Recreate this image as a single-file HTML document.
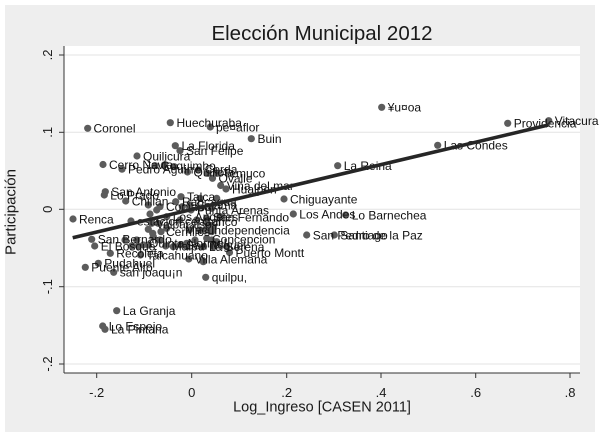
<!DOCTYPE html>
<html><head><meta charset="utf-8"><style>
html,body{margin:0;padding:0;background:#fff;}
svg{display:block;}
text{font-family:"Liberation Sans",Arial,sans-serif;fill:#1a1a1a;}
.l{font-size:12px;fill:#111;}
</style></head><body>
<svg width="600" height="437" viewBox="0 0 600 437" xmlns="http://www.w3.org/2000/svg">
<rect x="0" y="0" width="600" height="437" fill="#fff"/>
<rect x="5" y="5" width="590" height="427" fill="#eeeeee"/>
<rect x="64" y="46" width="516" height="327" fill="#fff"/>
<!-- gridlines -->
<g stroke="#e3e3e3" stroke-width="1">
<line x1="64" y1="55" x2="580" y2="55"/>
<line x1="64" y1="132.3" x2="580" y2="132.3"/>
<line x1="64" y1="209.3" x2="580" y2="209.3"/>
<line x1="64" y1="286.7" x2="580" y2="286.7"/>
<line x1="64" y1="364" x2="580" y2="364"/>
</g>
<!-- axes -->
<g stroke="#333" stroke-width="1">
<line x1="64" y1="46" x2="64" y2="373"/>
<line x1="64" y1="373" x2="580" y2="373"/>
<line x1="59" y1="55" x2="64" y2="55"/>
<line x1="59" y1="132.3" x2="64" y2="132.3"/>
<line x1="59" y1="209.3" x2="64" y2="209.3"/>
<line x1="59" y1="286.7" x2="64" y2="286.7"/>
<line x1="59" y1="364" x2="64" y2="364"/>
<line x1="96.7" y1="373" x2="96.7" y2="378"/>
<line x1="191.7" y1="373" x2="191.7" y2="378"/>
<line x1="286.7" y1="373" x2="286.7" y2="378"/>
<line x1="381" y1="373" x2="381" y2="378"/>
<line x1="475.7" y1="373" x2="475.7" y2="378"/>
<line x1="570" y1="373" x2="570" y2="378"/>
</g>
<!-- y tick labels -->
<g font-size="13" text-anchor="middle">
<text transform="translate(52,55) rotate(-90)">.2</text>
<text transform="translate(52,132.3) rotate(-90)">.1</text>
<text transform="translate(52,209.3) rotate(-90)">0</text>
<text transform="translate(52,286.7) rotate(-90)">-.1</text>
<text transform="translate(52,364) rotate(-90)">-.2</text>
</g>
<!-- x tick labels -->
<g font-size="13" text-anchor="middle">
<text x="96.7" y="397">-.2</text>
<text x="191.7" y="397">0</text>
<text x="286.7" y="397">.2</text>
<text x="381" y="397">.4</text>
<text x="475.7" y="397">.6</text>
<text x="570" y="397">.8</text>
</g>
<text x="322" y="411.5" font-size="14.5" text-anchor="middle">Log_Ingreso [CASEN 2011]</text>
<text transform="translate(15.5,212) rotate(-90)" font-size="15" text-anchor="middle">Participación</text>
<text x="322" y="40" font-size="20.5" text-anchor="middle">Elección Municipal 2012</text>

<!-- dots -->
<g fill="#5c5c5c">
<circle cx="87.7" cy="128.3" r="3.6"/>
<circle cx="170.3" cy="122.7" r="3.6"/>
<circle cx="210.3" cy="127" r="3.6"/>
<circle cx="251.3" cy="138.7" r="3.6"/>
<circle cx="175.3" cy="145.7" r="3.6"/>
<circle cx="180" cy="150.7" r="3.6"/>
<circle cx="137" cy="156" r="3.6"/>
<circle cx="103" cy="164.5" r="3.6"/>
<circle cx="122" cy="169.2" r="3.6"/>
<circle cx="155" cy="165.7" r="3.6"/>
<circle cx="164.3" cy="165" r="3.6"/>
<circle cx="174.3" cy="166.7" r="3.6"/>
<circle cx="187.5" cy="172" r="3.6"/>
<circle cx="198.3" cy="170" r="3.6"/>
<circle cx="207.7" cy="173.3" r="3.6"/>
<circle cx="217.3" cy="173.3" r="3.6"/>
<circle cx="212.5" cy="178.3" r="3.6"/>
<circle cx="220.7" cy="185.5" r="3.6"/>
<circle cx="226" cy="189" r="3.6"/>
<circle cx="105.3" cy="191.7" r="3.6"/>
<circle cx="104.3" cy="195" r="3.6"/>
<circle cx="125.7" cy="201" r="3.6"/>
<circle cx="181" cy="196.7" r="3.6"/>
<circle cx="284" cy="199" r="3.6"/>
<circle cx="73" cy="219" r="3.6"/>
<circle cx="381.7" cy="107.3" r="3.6"/>
<circle cx="507.7" cy="123.3" r="3.6"/>
<circle cx="548.7" cy="120.7" r="3.6"/>
<circle cx="437.7" cy="145.3" r="3.6"/>
<circle cx="337.7" cy="165.7" r="3.6"/>
<circle cx="293.3" cy="214" r="3.6"/>
<circle cx="345.7" cy="215" r="3.6"/>
<circle cx="306.7" cy="235" r="3.6"/>
<circle cx="334.3" cy="235" r="3.6"/>
<circle cx="229.5" cy="252.5" r="3.6"/>
<circle cx="91.7" cy="239.3" r="3.6"/>
<circle cx="94.7" cy="246" r="3.6"/>
<circle cx="110.3" cy="253.3" r="3.6"/>
<circle cx="140.5" cy="255" r="3.6"/>
<circle cx="188.8" cy="259" r="3.6"/>
<circle cx="98.3" cy="263.3" r="3.6"/>
<circle cx="85.3" cy="267.3" r="3.6"/>
<circle cx="113.7" cy="272.3" r="3.6"/>
<circle cx="205.7" cy="277.3" r="3.6"/>
<circle cx="116.7" cy="310.7" r="3.6"/>
<circle cx="102.7" cy="326" r="3.6"/>
<circle cx="105" cy="329.3" r="3.6"/>
<!-- cluster -->
<circle cx="131" cy="221" r="3.6"/>
<circle cx="148.3" cy="205" r="3.6"/>
<circle cx="160" cy="206.7" r="3.6"/>
<circle cx="156.7" cy="210" r="3.6"/>
<circle cx="150" cy="214" r="3.6"/>
<circle cx="175.7" cy="201.7" r="3.6"/>
<circle cx="166.7" cy="216.7" r="3.6"/>
<circle cx="158.3" cy="223.3" r="3.6"/>
<circle cx="148.3" cy="229.3" r="3.6"/>
<circle cx="153.3" cy="236.7" r="3.6"/>
<circle cx="143.3" cy="245" r="3.6"/>
<circle cx="160" cy="240" r="3.6"/>
<circle cx="166.7" cy="228.3" r="3.6"/>
<circle cx="180" cy="220" r="3.6"/>
<circle cx="190" cy="205" r="3.6"/>
<circle cx="196.7" cy="220" r="3.6"/>
<circle cx="206.7" cy="230" r="3.6"/>
<circle cx="211.7" cy="240" r="3.6"/>
<circle cx="220" cy="216.7" r="3.6"/>
<circle cx="216.7" cy="198.3" r="3.6"/>
<circle cx="200" cy="198.3" r="3.6"/>
<circle cx="186.7" cy="243.3" r="3.6"/>
<circle cx="173.3" cy="246.7" r="3.6"/>
<circle cx="136.7" cy="240" r="3.6"/>
<circle cx="125" cy="240" r="3.6"/>
<circle cx="131.7" cy="246" r="3.6"/>
<circle cx="203.3" cy="261.7" r="3.6"/>
<circle cx="226.7" cy="246.7" r="3.6"/>
<circle cx="213.3" cy="246.7" r="3.6"/>
<circle cx="182.3" cy="206.7" r="3.6"/>
<circle cx="206.7" cy="218.3" r="3.6"/>
<circle cx="211.7" cy="208.3" r="3.6"/>
<circle cx="208.3" cy="225" r="3.6"/>
<circle cx="213.3" cy="226.7" r="3.6"/>
<circle cx="211.7" cy="231.7" r="3.6"/>
<circle cx="200" cy="230" r="3.6"/>
<circle cx="206.7" cy="238.3" r="3.6"/>
<circle cx="195" cy="240" r="3.6"/>
<circle cx="216.7" cy="241.7" r="3.6"/>
<circle cx="186.7" cy="246.7" r="3.6"/>
<circle cx="203.3" cy="246.7" r="3.6"/>
<circle cx="189.3" cy="230" r="3.6"/>
<circle cx="151.7" cy="223.3" r="3.6"/>
<circle cx="138.3" cy="246" r="3.6"/>
<circle cx="148.3" cy="245" r="3.6"/>
<circle cx="165.7" cy="246" r="3.6"/>
<circle cx="180" cy="245" r="3.6"/>
<circle cx="161" cy="231.7" r="3.6"/>
<circle cx="152.7" cy="233.3" r="3.6"/>
<circle cx="191" cy="210" r="3.6"/>
</g>

<!-- labels -->
<g class="l">
<text x="93.5" y="132.5" class="l">Coronel</text>
<text x="176.5" y="127" class="l">Huechuraba</text>
<text x="216" y="131.3" class="l">pe¤aflor</text>
<text x="257.5" y="143" class="l">Buin</text>
<text x="181.5" y="150" class="l">La Florida</text>
<text x="186" y="155" class="l">San Felipe</text>
<text x="143" y="160.3" class="l">Quilicura</text>
<text x="109" y="168.8" class="l">Cerro Navia</text>
<text x="128" y="173.5" class="l">Pedro Aguirre Cerda</text>
<text x="161" y="170" class="l">Coquimbo</text>
<text x="193.5" y="176.3" class="l">Quillota</text>
<text x="223.3" y="177.6" class="l">Temuco</text>
<text x="218.5" y="182.6" class="l">Ovalle</text>
<text x="226.7" y="189.8" class="l">Viña del mar</text>
<text x="232" y="193.3" class="l">Hualpen</text>
<text x="111.3" y="196" class="l">San Antonio</text>
<text x="110.3" y="199.3" class="l">Lo Prado</text>
<text x="131.7" y="205.3" class="l">Chillan</text>
<text x="187" y="201" class="l">Talca</text>
<text x="290" y="203.3" class="l">Chiguayante</text>
<text x="79" y="223.3" class="l">Renca</text>
<text x="387.7" y="111.6" class="l">¥u¤oa</text>
<text x="513.7" y="127.6" class="l">Providencia</text>
<text x="554.7" y="125" class="l">Vitacura</text>
<text x="443.7" y="149.6" class="l">Las Condes</text>
<text x="343.7" y="170" class="l">La Reina</text>
<text x="299.3" y="218.3" class="l">Los Andes</text>
<text x="351.7" y="219.3" class="l">Lo Barnechea</text>
<text x="312.7" y="239.3" class="l">San Pedro de la Paz</text>
<text x="340.3" y="239.3" class="l">Santiago</text>
<text x="235.5" y="256.8" class="l">Puerto Montt</text>
<text x="97.7" y="243.6" class="l">San Bernardo</text>
<text x="100.7" y="250.3" class="l">El Bosque</text>
<text x="116.3" y="257.6" class="l">Recoleta</text>
<text x="146.5" y="259.3" class="l">Talcahuano</text>
<text x="194.8" y="263.3" class="l">Villa Alemana</text>
<text x="104.3" y="267.6" class="l">Pudahuel</text>
<text x="91.3" y="271.6" class="l">Puente Alto</text>
<text x="119.7" y="276.6" class="l">san joaqu¡n</text>
<text x="211.7" y="281.6" class="l">quilpu,</text>
<text x="122.7" y="315" class="l">La Granja</text>
<text x="108.7" y="330.3" class="l">Lo Espejo</text>
<text x="111" y="333.6" class="l">La Pintana</text>
<!-- cluster labels -->
<text x="166" y="211" class="l">Copiapo</text>
<text x="182" y="206" class="l">Rancagua</text>
<text x="196" y="209.3" class="l">Calama</text>
<text x="197" y="214.3" class="l">Punta Arenas</text>
<text x="172.7" y="221" class="l">Los Angeles</text>
<text x="213" y="221.5" class="l">San Fernando</text>
<text x="137" y="225.3" class="l">estacion central</text>
<text x="156" y="228.5" class="l">Valparaiso</text>
<text x="202.7" y="226" class="l">Curico</text>
<text x="211" y="234.3" class="l">Independencia</text>
<text x="166" y="236" class="l">Cerrillos</text>
<text x="185" y="234" class="l">Macul</text>
<text x="212" y="243.3" class="l">Concepcion</text>
<text x="149" y="247.5" class="l">Quinta Normal</text>
<text x="171.7" y="250.5" class="l">Maipu</text>
<text x="186" y="249.5" class="l">San Miguel</text>
<text x="209" y="251" class="l">La Serena</text>
</g>

<!-- regression line -->
<line x1="72.7" y1="237.7" x2="548.3" y2="125" stroke="#262626" stroke-width="3.6" stroke-linecap="butt"/>
</svg>
</body></html>
